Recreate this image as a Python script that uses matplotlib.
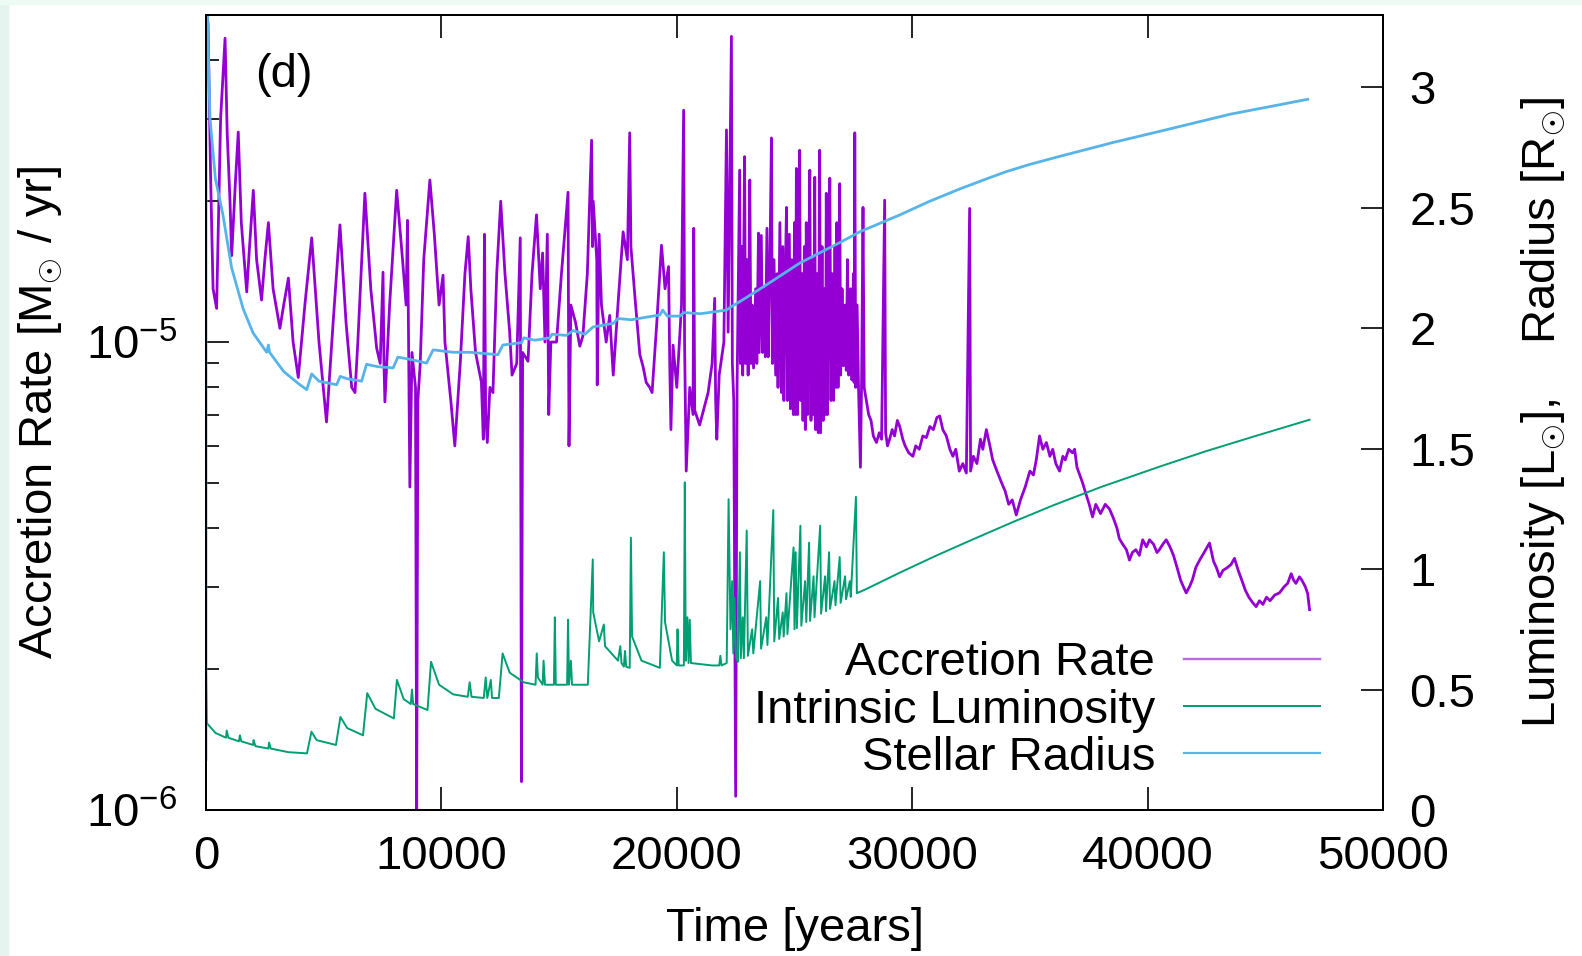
import numpy as np
import matplotlib
matplotlib.use("Agg")
import matplotlib.pyplot as plt
from matplotlib.lines import Line2D
from matplotlib.patches import Rectangle
from matplotlib.ticker import FixedLocator, FuncFormatter, LogLocator, NullFormatter

plt.rcParams['font.family'] = 'Liberation Sans'
plt.rcParams['mathtext.fontset'] = 'custom'
plt.rcParams['mathtext.rm'] = 'Liberation Sans'
plt.rcParams['mathtext.it'] = 'Liberation Sans:italic'
plt.rcParams['mathtext.bf'] = 'Liberation Sans:bold'

# accretion rate, (time [yr], rate [1e-6 Msun/yr])
acc_points = [
    (0, 52), (85, 48), (200, 22), (300, 13), (450, 11.8), (620, 30), (810, 44.6), (900, 28),
    (1020, 20), (1090, 15.3), (1250, 22), (1370, 28.1), (1500, 18), (1730, 12.8), (1850, 16),
    (2010, 21.1), (2150, 15), (2360, 12.3), (2500, 15), (2650, 18), (2850, 13), (3140, 10.7),
    (3300, 12), (3500, 13.7), (3700, 10), (3920, 8.4), (4200, 12), (4490, 16.7), (4800, 10),
    (5120, 6.75), (5400, 11), (5690, 17.8), (5950, 11), (6190, 8.0), (6330, 7.8), (6450, 10),
    (6750, 20.8), (7000, 13), (7250, 9.7), (7400, 9.0), (7520, 14.1), (7560, 9), (7600, 7.45),
    (7800, 12), (8100, 21.1), (8350, 15), (8500, 12), (8560, 18.2), (8600, 11), (8660, 4.9),
    (8750, 9.5), (8900, 8), (8950, 1.0), (9000, 7.5), (9100, 9), (9250, 15), (9510, 22.2),
    (9700, 17), (9900, 12), (10070, 13.9), (10150, 10), (10400, 7.5), (10570, 6.0), (10800, 9),
    (11000, 14), (11140, 16.8), (11250, 13), (11450, 9.5), (11700, 8.2), (11780, 6.2),
    (11830, 17), (11880, 7), (11950, 6.1), (12060, 8), (12190, 7.8), (12350, 14), (12520, 20),
    (12700, 14), (12900, 10.5), (13000, 8.5), (13200, 9), (13350, 16.7), (13400, 1.15),
    (13450, 9.5), (13680, 9.1), (13850, 14), (14040, 18.7), (14200, 13), (14300, 15.5),
    (14400, 10), (14500, 17), (14560, 7.0), (14650, 10), (14890, 10.0), (15100, 14),
    (15380, 20.9), (15420, 6.0), (15500, 12), (15700, 11), (15880, 9.8), (16010, 10.3),
    (16200, 14), (16380, 27), (16420, 16), (16450, 20), (16600, 15), (16620, 8.1), (16700, 17),
    (16800, 12), (17000, 10), (17150, 11.4), (17300, 8.5), (17500, 12), (17720, 17.2),
    (17900, 15), (18000, 28), (18050, 16), (18250, 12), (18430, 9.4), (18570, 8.85),
    (18700, 8.2), (18850, 8.0), (18950, 7.8), (19150, 11), (19350, 16.1), (19500, 13),
    (19650, 14.5), (19700, 9), (19750, 6.5), (19840, 9.85), (20000, 8), (20200, 12),
    (20290, 31.3), (20330, 10), (20400, 5.3), (20550, 8), (20690, 7.0), (20720, 17.5),
    (20760, 7.15), (20970, 6.65), (21150, 7.2), (21330, 7.8), (21500, 9), (21610, 12.4),
    (21650, 7.5), (21700, 6.2), (21800, 8.5), (22000, 10), (22110, 28.4), (22180, 10.5),
    (22320, 45), (22360, 9), (22420, 7.5), (22500, 1.07),
    (22560, 8), (22620, 14), (22670, 23.3), (22700, 9), (22760, 16), (22800, 8.5),
    (22880, 24.9), (22920, 9), (22980, 15), (23030, 8.5), (23100, 22.2), (23150, 9),
    (23200, 12), (23260, 8.8), (23350, 13), (23400, 9), (23470, 17.1), (23500, 9.5),
    (23590, 16.9), (23640, 9.5), (23700, 13), (23760, 9.3), (23830, 17.5), (23880, 9.3),
    (23950, 14), (24020, 27.3), (24060, 9), (24130, 15), (24200, 8.5), (24260, 14), (24300, 8),
    (24380, 18), (24450, 7.8), (24500, 16), (24550, 7.5), (24600, 13), (24660, 19.4),
    (24700, 7.5), (24780, 17), (24830, 7.2), (24880, 15), (24950, 7), (25000, 18), (25040, 7),
    (25080, 23.5), (25130, 7), (25180, 17), (25220, 25.7), (25260, 7.5), (25320, 14),
    (25360, 6.8), (25420, 16), (25460, 6.5), (25500, 18), (25560, 7), (25610, 15),
    (25650, 23.3), (25700, 6.8), (25760, 15), (25800, 7), (25860, 22.5), (25900, 6.5),
    (25960, 14), (26010, 6.4), (26070, 25.7), (26110, 6.4), (26170, 16), (26220, 6.8),
    (26280, 13), (26320, 7), (26350, 20.8), (26400, 7), (26460, 15), (26500, 22.4),
    (26550, 7.5), (26610, 14), (26660, 7.5), (26720, 16), (26760, 8), (26800, 18), (26850, 8),
    (26920, 21.8), (26960, 8.5), (27020, 13), (27080, 8.9), (27150, 12), (27200, 8.7),
    (27250, 15), (27300, 8.5), (27380, 13), (27440, 8.3), (27500, 14), (27530, 8.2),
    (27560, 28), (27600, 8), (27660, 12), (27720, 8), (27800, 5.4), (27850, 8.2),
    (27910, 19.4), (27960, 8), (28050, 7.5), (28150, 7.0), (28250, 6.8), (28350, 6.3),
    (28480, 6.1), (28600, 6.4), (28700, 6.2), (28830, 20.1), (28870, 6.4), (28950, 6.0),
    (29040, 6.2), (29150, 6.5), (29250, 6.3), (29370, 6.8), (29470, 6.6), (29600, 6.2),
    (29700, 6.0), (29850, 5.8), (30030, 5.7), (30150, 6.0), (30300, 5.9), (30450, 6.3),
    (30600, 6.25), (30750, 6.6), (30900, 6.5), (31050, 6.9), (31170, 6.95), (31300, 6.5),
    (31450, 6.3), (31600, 5.9), (31730, 5.7), (31850, 5.9), (32000, 5.3), (32150, 5.5),
    (32300, 5.25), (32440, 19.3), (32480, 5.3), (32600, 5.7), (32750, 5.5), (32900, 6.2),
    (33000, 5.9), (33150, 6.5), (33300, 6.0), (33420, 5.6), (33600, 5.3), (33800, 5.0),
    (33950, 4.8), (34100, 4.5), (34250, 4.6), (34420, 4.27), (34600, 4.6), (34800, 4.9),
    (35000, 5.3), (35150, 5.2), (35270, 5.6), (35410, 6.3), (35550, 5.9), (35700, 6.1),
    (35850, 5.7), (35970, 5.9), (36100, 5.5), (36260, 5.3), (36400, 5.7), (36500, 5.6),
    (36650, 5.9), (36810, 5.8), (36900, 5.9), (37000, 5.4), (37120, 5.2), (37240, 5.0),
    (37400, 4.7), (37520, 4.5), (37660, 4.23), (37800, 4.5), (38000, 4.3), (38200, 4.5),
    (38380, 4.4), (38550, 4.2), (38700, 4.0), (38800, 3.8), (38940, 3.7), (39100, 3.6),
    (39230, 3.42), (39350, 3.55), (39500, 3.6), (39650, 3.5), (39790, 3.78), (39950, 3.65),
    (40080, 3.78), (40250, 3.7), (40400, 3.55), (40500, 3.6), (40650, 3.7), (40790, 3.78),
    (40950, 3.65), (41100, 3.5), (41250, 3.3), (41400, 3.1), (41520, 3.0), (41640, 2.91),
    (41780, 3.0), (41900, 3.1), (42050, 3.3), (42210, 3.42), (42400, 3.55), (42630, 3.72),
    (42800, 3.4), (42920, 3.3), (43060, 3.15), (43200, 3.25), (43400, 3.3), (43550, 3.35),
    (43690, 3.45), (43850, 3.25), (44000, 3.1), (44150, 2.95), (44300, 2.85), (44450, 2.78),
    (44610, 2.72), (44750, 2.8), (44900, 2.75), (45050, 2.85), (45200, 2.8), (45400, 2.88),
    (45600, 2.91), (45800, 3.0), (45950, 3.05), (46100, 3.2), (46200, 3.1), (46300, 3.05),
    (46450, 3.15), (46550, 3.1), (46700, 3.0), (46800, 2.9), (46880, 2.68),
]

# intrinsic luminosity, (time [yr], L [Lsun])
lum_points = [
    (0, 0.58), (40, 0.36), (400, 0.32), (850, 0.30), (880, 0.33), (950, 0.30), (1400, 0.285),
    (1440, 0.31), (1500, 0.285), (2000, 0.27), (2020, 0.29), (2100, 0.265), (2650, 0.255),
    (2680, 0.28), (2750, 0.255), (3500, 0.24), (4290, 0.235), (4480, 0.325), (4700, 0.29),
    (5520, 0.27), (5710, 0.386), (6000, 0.34), (6670, 0.31), (6850, 0.485), (7200, 0.42),
    (7980, 0.38), (8110, 0.54), (8400, 0.46), (8700, 0.44), (8750, 0.50), (8800, 0.44),
    (9410, 0.415), (9560, 0.615), (9900, 0.52), (10500, 0.48), (11120, 0.47), (11200, 0.53),
    (11280, 0.47), (11800, 0.465), (11880, 0.55), (11950, 0.465), (12100, 0.54),
    (12150, 0.465), (12440, 0.465), (12600, 0.65), (12900, 0.57), (13500, 0.53),
    (14000, 0.52), (14050, 0.65), (14100, 0.55), (14300, 0.52), (14340, 0.62), (14400, 0.52),
    (14780, 0.52), (14820, 0.80), (14860, 0.52), (15340, 0.52), (15380, 0.79), (15420, 0.52),
    (15500, 0.62), (15550, 0.52), (16220, 0.52), (16430, 1.04), (16450, 0.82), (16700, 0.70),
    (16900, 0.77), (16950, 0.68), (17500, 0.62), (17600, 0.68), (17650, 0.61), (17750, 0.595),
    (17800, 0.66), (17850, 0.595), (18000, 0.59), (18050, 1.13), (18100, 0.72), (18500, 0.62),
    (19280, 0.59), (19450, 1.07), (19500, 0.78), (19800, 0.62), (20000, 0.60), (20030, 0.75),
    (20080, 0.60), (20300, 0.60), (20340, 1.36), (20380, 0.62), (20450, 0.80), (20500, 0.61),
    (20550, 0.79), (20600, 0.61), (21500, 0.60), (21800, 0.60), (21850, 0.64), (21900, 0.60),
    (22120, 0.61), (22200, 1.29), (22280, 0.75), (22350, 0.95), (22400, 0.65), (22450, 0.88),
    (22520, 0.63), (22600, 0.615), (22680, 1.07), (22720, 0.63), (22800, 0.80), (22850, 0.63),
    (22970, 1.16), (23020, 0.64), (23200, 0.75), (23250, 0.65), (23540, 0.95), (23580, 0.67),
    (23800, 0.80), (23850, 0.685), (24100, 1.245), (24140, 0.70), (24300, 0.88), (24350, 0.71),
    (24500, 0.82), (24540, 0.72), (24660, 0.90), (24700, 0.73), (24960, 1.09), (25000, 0.75),
    (25050, 1.07), (25100, 0.755), (25250, 1.18), (25290, 0.765), (25450, 0.95), (25500, 0.78),
    (25620, 1.11), (25660, 0.785), (25810, 0.97), (25850, 0.80), (26090, 1.18), (26130, 0.815),
    (26300, 0.97), (26340, 0.825), (26470, 1.07), (26510, 0.835), (26700, 0.95), (26740, 0.85),
    (26920, 1.05), (26960, 0.86), (27150, 0.97), (27190, 0.875), (27350, 0.95), (27390, 0.885),
    (27610, 1.30), (27650, 0.90), (28000, 0.915), (29470, 0.985), (31000, 1.055),
    (32500, 1.12), (34270, 1.195), (36000, 1.265), (38000, 1.34), (40500, 1.425),
    (42500, 1.49), (44500, 1.55), (46880, 1.62),
]

# stellar radius, (time [yr], R [Rsun])
rad_points = [
    (0, 0.21), (1, 3.5), (60, 3.3), (170, 2.87), (400, 2.62), (720, 2.47), (1090, 2.25),
    (1580, 2.08), (2000, 1.98), (2580, 1.90), (2650, 1.93), (2700, 1.90), (3300, 1.82),
    (3990, 1.765), (4280, 1.745), (4490, 1.81), (4800, 1.78), (5550, 1.765), (5700, 1.80),
    (6000, 1.79), (6610, 1.78), (6820, 1.85), (7300, 1.84), (7950, 1.835), (8150, 1.88),
    (8700, 1.87), (9370, 1.855), (9650, 1.91), (10500, 1.90), (11210, 1.90), (12400, 1.89),
    (12610, 1.93), (13400, 1.94), (13500, 1.96), (13970, 1.95), (14600, 1.96), (14700, 1.975),
    (15300, 1.97), (15600, 1.99), (16100, 1.975), (16440, 2.005), (17300, 2.02), (17500, 2.04),
    (18070, 2.035), (19280, 2.055), (19400, 2.075), (19600, 2.05), (20130, 2.05),
    (20300, 2.065), (21000, 2.06), (22110, 2.075), (22250, 2.085), (23000, 2.13),
    (23810, 2.18), (25220, 2.27), (26920, 2.355), (27770, 2.40), (29470, 2.47),
    (30700, 2.525), (32020, 2.578), (33300, 2.625), (34000, 2.65), (35000, 2.68),
    (36260, 2.713), (38500, 2.77), (40510, 2.817), (43500, 2.888), (46800, 2.95),
]

acc_t = np.array([p[0] for p in acc_points])
acc_v = np.array([p[1] for p in acc_points]) * 1e-6
lum_t = np.array([p[0] for p in lum_points])
lum_v = np.array([p[1] for p in lum_points])
rad_t = np.array([p[0] for p in rad_points])
rad_v = np.array([p[1] for p in rad_points])

purple = '#9400d3'
green = '#009e73'
blue = '#56b4e9'
fs = 34

fig = plt.figure(figsize=(15.82, 9.56), dpi=100)
fig.patches.append(Rectangle((0, 0), 8 / 1582, 1, transform=fig.transFigure,
                             color='#e3f5ee', zorder=-1))
fig.patches.append(Rectangle((0, 1 - 4 / 956), 1, 4 / 956, transform=fig.transFigure,
                             color='#eefaf4', zorder=-1))

ax = fig.add_axes([206 / 1582, 1 - 810 / 956, 1177 / 1582, 795 / 956])
ax.patch.set_alpha(0)
ax2 = ax.twinx()

ax.plot(acc_t, acc_v, color=purple, lw=2.0)
ax2.plot(lum_t, lum_v, color=green, lw=1.4)
ax2.plot(rad_t, rad_v, color=blue, lw=2.0)

ax.set_yscale('log')
ax.set_ylim(1e-6, 5e-5)
ax.set_xlim(0, 50000)
ax2.set_ylim(0, 3.3)

ax.xaxis.set_major_locator(FixedLocator([0, 10000, 20000, 30000, 40000, 50000]))
ax.xaxis.set_major_formatter(FuncFormatter(lambda v, p: '%d' % v))
ax.yaxis.set_major_locator(LogLocator(base=10))
ax.yaxis.set_minor_locator(LogLocator(base=10, subs=np.arange(2, 10)))
ax.yaxis.set_minor_formatter(NullFormatter())
ax2.yaxis.set_major_locator(FixedLocator([0, 0.5, 1, 1.5, 2, 2.5, 3]))
ax2.yaxis.set_major_formatter(FuncFormatter(lambda v, p: '%g' % v))

ax.tick_params(axis='x', which='both', direction='in', top=True, length=16.5, width=1.2,
               labelsize=fs, pad=18)
ax.tick_params(axis='y', which='major', direction='in', right=False, length=16.5, width=1.2,
               labelsize=fs, pad=21)
ax.tick_params(axis='y', which='minor', direction='in', right=False, length=9.5, width=1.2)
ax2.tick_params(axis='y', which='major', direction='in', length=16, width=1.2,
                labelsize=fs, pad=19)
for a in (ax, ax2):
    for s in a.spines.values():
        s.set_linewidth(1.4)

ax.set_xlabel('Time [years]', fontsize=fs)
ax.xaxis.set_label_coords(0.5, -0.122)
ax.set_ylabel(r'Accretion Rate [M$_{\odot}$ / yr]', fontsize=fs)
ax.yaxis.set_label_coords(-0.121, 0.5)
ax2.set_ylabel(r'Luminosity [L$_{\odot}$],    Radius [R$_{\odot}$]', fontsize=fs)
ax2.yaxis.set_label_coords(1.116, 0.5)

ax.text(0.0416, 0.9245, '(d)', transform=ax.transAxes, fontsize=fs, ha='left', va='center')

handles = [Line2D([], [], color=purple, lw=1.7, alpha=0.6),
           Line2D([], [], color=green, lw=1.4),
           Line2D([], [], color=blue, lw=1.6)]
ax2.legend(handles, ['Accretion Rate', 'Intrinsic Luminosity', 'Stellar Radius'],
           loc='center right', bbox_to_anchor=(0.9465, 0.125), bbox_transform=ax2.transAxes,
           frameon=False, fontsize=fs, markerfirst=False, handlelength=2.88,
           handletextpad=0.61, labelspacing=0.07, borderpad=0, borderaxespad=0)

fig.savefig('out.png', dpi=100)
